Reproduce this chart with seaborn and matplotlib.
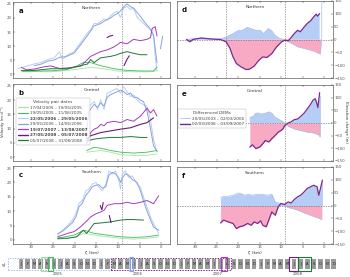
import numpy as np
import pandas as pd
import matplotlib
matplotlib.use("Agg")
import matplotlib.pyplot as plt
import seaborn as sns
from matplotlib.lines import Line2D
from matplotlib.patches import Rectangle

sns.set_style("ticks")
plt.rcParams['font.family'] = ['DejaVu Sans']

# ---------------- velocity pair labels / colours ----------------
pair_labels = ["17/04/2005 – 19/05/2005", "19/05/2005 – 11/06/2005",
               "22/05/2006 – 29/05/2006", "29/05/2006 – 14/06/2006",
               "19/07/2007 – 13/08/2007", "27/05/2008 – 05/07/2008",
               "05/07/2008 – 31/08/2008"]
pair_keys = ["lg", "g", "lb", "b", "p", "dp", "dg"]
pair_bold = [False, False, True, False, True, True, False]
dem_labels = ["20/05/2003 – 02/03/2006", "02/03/2006 – 03/09/2007"]
region_names = ["Northern", "Central", "Southern"]
ztick_vals = [30, 25, 20, 15, 10, 5, 0]
v_ticks = [0, 5, 10, 15, 20, 25]
h_ticks = [-150, -100, -50, 0, 50, 100, 150]
years = [2005, 2006, 2007, 2008]
month_letters = ["J", "F", "M", "A", "M", "J", "J", "A", "S", "O", "N", "D"]

# ---------------- panel a (Northern) velocities ----------------
a_lg_z = [32.3, 29.0, 25.5, 21.6, 18.6, 16.3, 14.0, 12.0, 10.2, 8.0, 6.4, 3.3, 1.8, 1.0]
a_lg_v = [0.8, 0.9, 0.8, 1.3, 1.9, 2.4, 2.0, 1.6, 1.1, 0.9, 0.8, 0.8, 0.9, 1.3]
a_g_z = [32.0, 28.0, 25.0, 22.0, 20.1, 18.0, 16.3, 14.0, 10.9, 7.9, 4.8, 1.8, 1.0]
a_g_v = [1.0, 1.1, 1.2, 1.6, 2.4, 4.1, 4.1, 3.0, 1.9, 1.3, 1.1, 1.1, 2.4]
a_lb_z = [33.1, 30.8, 29.3, 27.8, 26.2, 24.7, 23.5, 22.8, 21.6, 20.1, 18.6, 17.0, 16.3, 15.5, 14.7, 14.0,
          13.2, 12.5, 11.7, 10.9, 10.2, 9.4, 8.7, 7.9, 7.1, 6.4, 5.6, 4.8, 4.1, 3.3, 2.5, 1.8, 1.4, 1.0]
a_lb_v = [1.9, 3.0, 3.6, 4.1, 5.2, 5.8, 8.0, 5.2, 6.9, 8.0, 11.3, 14.7, 15.8, 18.0, 18.0, 18.6,
          19.7, 19.1, 20.8, 21.9, 22.4, 20.2, 23.6, 24.1, 23.0, 23.6, 20.2, 19.1, 18.0, 16.9, 15.8, 13.6, 5.8, 1.3]
a_b_z = [29.3, 27.8, 26.2, 24.7, 23.5, 22.0, 20.1, 18.6, 17.0, 15.5, 14.0, 12.5, 11.7, 10.9, 10.2,
         9.4, 8.7, 7.9, 7.1, 6.4, 5.6, 4.8, 4.1, 3.3, 2.5, 1.8, 1.0, np.nan, 0.2, -0.3]
a_b_v = [3.0, 3.5, 4.6, 5.0, 6.0, 6.2, 7.5, 10.5, 13.8, 17.2, 18.0, 19.5, 20.0, 21.0, 21.5,
         22.5, 24.0, 25.0, 24.0, 23.5, 22.0, 20.5, 19.0, 17.5, 16.0, 14.0, 4.0, np.nan, 9.0, 13.5]
a_p_z = [32.3, 31.0, 29.3, 27.0, 25.5, 23.5, 21.6, 18.6, 16.3, 15.5, 14.0, 12.5, 10.9, 9.4, 7.9,
         6.4, 4.8, 3.3, 2.5, 2.1, 1.4, 1.0]
a_p_v = [2.4, 1.5, 1.8, 2.6, 2.9, 2.0, 2.2, 2.8, 6.3, 6.9, 8.0, 8.6, 9.7, 11.3, 10.8,
         12.4, 11.9, 12.4, 13.0, 16.3, 16.9, 13.6]
a_dp_z = [12.5, 12.0, 11.2, np.nan, 8.6, 8.0, 7.4]
a_dp_v = [13.0, 13.5, 13.8, np.nan, 3.0, 5.0, 6.5]
a_dg_z = [32.3, 29.3, 25.5, 21.6, 18.6, 17.0, 16.3, 15.5, 14.0, 11.7, 10.2, 9.4, 7.9, 6.4, 4.8, 3.3]
a_dg_v = [1.3, 1.3, 1.9, 1.9, 3.0, 3.6, 5.2, 4.1, 5.8, 6.3, 6.9, 7.4, 8.0, 7.4, 6.9, 6.9]

# ---------------- panel b (Central) velocities ----------------
b_lg_z = [17.2, 14.0, 11.7, 9.4, 6.4, 3.3, 1.0]
b_lg_v = [1.7, 2.3, 1.7, 0.8, 0.6, 0.6, 1.1]
b_g_z = [17.2, 15.5, 14.0, 11.7, 9.4, 6.4, 3.3, 1.0]
b_g_v = [2.3, 3.4, 3.1, 2.3, 1.7, 1.4, 1.7, 2.3]
b_lb_z = [17.4, 16.7, 15.5, 14.7, 14.0, 13.2, 12.5, 11.7, 10.9, 10.2, 9.4, 8.7, 7.9, 7.1, 6.4,
          5.6, 4.8, 4.1, 3.3, 2.5, 1.8, 1.0]
b_lb_v = [5.7, 17.8, 19.5, 16.7, 20.1, 16.7, 22.4, 23.0, 23.6, 24.1, 22.4, 24.7, 23.0, 21.3, 21.8,
          20.1, 19.0, 18.4, 17.8, 13.2, 6.3, 1.7]
b_b_z = [17.4, 16.7, 15.5, 14.7, 14.0, 13.2, 12.5, 11.7, 10.9, 10.2, 9.4, 8.7, 7.9, 7.1, 6.4,
         5.6, 4.8, 4.1, 3.3, 2.5, 1.8, 1.0]
b_b_v = [6.5, 16.0, 18.5, 17.5, 19.0, 18.0, 21.0, 22.0, 22.5, 23.0, 23.5, 23.0, 22.0, 22.5, 21.0,
         21.0, 20.0, 19.5, 16.0, 10.0, 4.0, 2.0]
b_p_z = [17.2, 16.3, 15.5, 14.7, 14.0, 13.2, 12.5, 10.9, 9.4, 7.9, 6.4, 4.8, 3.3, 2.5, 1.8, 1.0]
b_p_v = [4.6, 8.6, 9.8, 10.3, 11.5, 11.0, 12.1, 12.6, 12.1, 13.2, 12.6, 14.4, 17.2, 15.5, 16.7, 14.4]
b_dp_z = [17.2, 16.3, 14.0, 11.7, 9.4, 7.1, 4.8, 3.3, 1.8]
b_dp_v = [6.3, 7.5, 8.6, 9.2, 9.8, 10.3, 11.5, 12.1, 13.8]
b_dg_z = [17.2, 15.5, 14.0, 11.7, 9.4, 7.1, 4.8, 3.3]
b_dg_v = [5.7, 6.3, 6.6, 6.9, 6.9, 7.2, 6.9, 6.9]

# ---------------- panel c (Southern) velocities ----------------
c_lg_z = [23.9, 20.1, 17.8, 15.5, 12.5, 9.4, 6.4, 3.3, 0.6]
c_lg_v = [0.2, 0.9, 2.3, 1.7, 1.1, 0.6, 0.3, 0.6, 1.1]
c_g_z = [23.9, 20.1, 17.8, 15.5, 12.5, 9.4, 6.4, 3.3, 0.6]
c_g_v = [0.6, 1.7, 3.4, 2.3, 1.7, 1.1, 0.9, 1.1, 1.7]
c_lb_z = [23.9, 22.8, 21.6, 20.5, 19.7, 19.0, 18.2, 17.4, 16.7, 15.9, 15.1, 14.4, 13.6, 12.8, 12.1,
          11.3, 10.6, 9.8, 9.4, 9.0, 8.3, 7.5, 6.7, 5.6, 4.8, 4.1, 3.3, 2.5, 1.8, 0.6]
c_lb_v = [1.7, 3.4, 5.1, 6.9, 9.1, 12.6, 13.7, 17.1, 17.7, 19.4, 20.0, 18.3, 17.1, 19.4, 24.0,
          22.9, 24.0, 20.6, 17.7, 22.9, 24.0, 21.7, 22.3, 19.4, 18.3, 14.9, 11.4, 8.0, 5.7, 2.3]
c_b_z = [23.9, 22.8, 21.6, 20.5, 19.7, 19.0, 18.2, 17.4, 16.7, 15.9, 15.1, 14.4, 13.6, 12.8, 12.1,
         11.3, 10.6, 9.8, 9.4, 9.0, 8.3, 7.5, 6.7, 5.6, 4.8, 4.1, 3.3, 2.5, 1.8, 0.6]
c_b_v = [2.2, 3.0, 4.5, 6.0, 8.0, 11.5, 12.8, 15.5, 16.8, 18.5, 19.0, 19.2, 18.0, 18.5, 22.5,
         23.5, 23.0, 21.5, 20.0, 21.5, 23.0, 22.5, 21.0, 20.0, 17.0, 13.5, 10.0, 7.0, 4.5, 3.4]
c_p_z = [23.9, 21.6, 20.1, 18.6, 17.0, 16.3, 15.1, 14.0, 13.2, 12.5, 10.9, 9.4, 7.9, 6.4, 4.8, 3.3, 1.8, 0.6]
c_p_v = [1.1, 2.3, 2.9, 4.6, 6.9, 8.0, 9.1, 9.7, 10.3, 12.0, 12.6, 12.6, 13.1, 12.6, 13.1, 13.7, 12.6, 15.4]
c_dp_z = [14.1, 13.7, 13.4, np.nan, 12.0, 11.6]
c_dp_v = [12.0, 10.5, 13.0, np.nan, 8.5, 6.0]
c_dg_z = [23.9, 21.6, 19.5, 18.0, 17.2, 15.5, 14.0, 11.7, 9.4, 7.9, 6.4, 4.1]
c_dg_v = [0.6, 0.6, 1.1, 3.4, 2.3, 5.7, 5.9, 6.3, 6.9, 7.1, 7.1, 6.9]

# ---------------- elevation change (differenced DEMs) ----------------
d_h1_z = [32.0, 30.5, 28.6, 26.4, 24.1, 22.7, 22.0, 21.2, 20.1, 19.0, 17.9, 17.1, 16.0, 14.9, 14.1,
          13.0, 12.2, 11.5, 10.4, 9.2, 8.4, 7.3, 6.2, 4.7, 3.2, 2.1, 1.3, 0.9, 0.62, 0.6]
d_h1_v = [0, 3, 5, 3, 2, 10, 17, 23, 34, 36, 47, 43, 36, 36, 23,
          43, 34, 17, 4, 0, -9, -18, -29, -35, -42, -48, -55, -57, 0, 147]
d_h2_z = [32.0, 31.2, 30.5, 28.6, 26.4, 24.1, 22.8, 21.9, 21.2, 20.4, 19.3, 18.2, 17.4, 16.3, 15.2,
          14.3, 13.3, 12.2, 11.1, 9.9, 9.2, 8.4, 7.7, 7.0, 6.2, 5.6, 4.7, 4.0, 3.2, 2.5, 1.9, 1.6, 1.1]
d_h2_v = [0, -9, 0, 6, 2, 0, -9, -35, -68, -94, -107, -117, -116, -104, -81,
          -68, -70, -55, -29, -9, -3, -5, 8, 23, 36, 30, 49, 62, 73, 88, 99, 91, 101]
e_h1_z = [17.3, 16.5, 15.9, 15.2, 14.6, 13.8, 12.9, 12.2, 11.4, 10.7, 9.9, 9.2, 8.4, 7.0, 5.5,
          4.0, 2.5, 1.3, 1.0, 0.95, 0.9]
e_h1_v = [22, 26, 39, 39, 35, 38, 44, 39, 22, 16, 8, 0, -13, -23, -30,
          -36, -39, -47, -56, 0, 107]
e_h2_z = [17.3, 16.7, 15.9, 15.0, 14.3, 13.7, 12.9, 12.2, 11.4, 10.7, 10.1, 9.6, 9.2, 8.4, 7.7,
          7.0, 6.2, 5.5, 4.7, 4.0, 3.2, 2.6, 2.1, 1.7, 1.5, 1.1]
e_h2_v = [-95, -86, -101, -95, -82, -69, -75, -62, -49, -36, -30, -23, -10, 0, 5,
          13, 16, 26, 39, 55, 74, 91, 96, 74, 61, 120]
f_h1_z = [24.1, 23.4, 22.3, 21.2, 20.0, 19.3, 18.5, 17.8, 16.7, 15.5, 14.4, 13.3, 12.2, 11.4, 10.3,
          9.2, 8.4, 7.3, 6.2, 4.7, 3.2, 1.7, 0.6]
f_h1_v = [31, 36, 36, 40, 49, 46, 40, 44, 40, 44, 44, 40, 44, 14, 8,
          0, -8, -12, -18, -29, -38, -47, -55]
f_h2_z = [24.1, 23.4, 22.3, 21.2, 20.4, 19.7, 18.9, 17.8, 17.0, 16.3, 15.5, 14.8, 14.3, 13.5, 12.9,
          12.2, 11.4, 10.7, 10.1, 9.2, 8.4, 7.7, 7.0, 6.2, 5.5, 4.7, 4.0, 3.2, 2.5, 1.7, 1.3, 1.0, 0.45]
f_h2_v = [-68, -57, -64, -70, -90, -83, -80, -70, -77, -64, -70, -60, -77, -83, -57,
          -25, -38, -5, 8, 4, 14, 10, 23, 34, 40, 53, 66, 73, 79, 73, 40, 60, 99]

# timeline: velocity pair date ranges (decimal years)
pair_start = [2005.29, 2005.38, 2006.39, 2006.41, 2007.55, 2008.40, 2008.51]
pair_end = [2005.38, 2005.44, 2006.41, 2006.45, 2007.62, 2008.51, 2008.67]
dem_start = [2003.38, 2006.17]
dem_end = [2006.17, 2007.67]

# ---------------- styles ----------------
colors = {"lg": "#a3e3a0", "g": "#3cba5c", "lb": "#b9cdf2", "b": "#87a3de",
          "p": "#a73bbd", "dp": "#6b1b79", "dg": "#1f7636"}
widths = {"lg": 0.6, "g": 0.6, "lb": 0.7, "b": 0.7, "p": 0.7, "dp": 0.8, "dg": 0.7}
draw_order = ["lb", "b", "lg", "g", "p", "dg", "dp"]
dem_line_col = ["#a9bfea", "#7b2a8c"]
pos_fill = "#b6cdf6"
neg_fill = "#f8a9c4"
tick_col = "#555555"

W, H = 350, 277
fig = plt.figure(figsize=(W / 100, H / 100), dpi=100)

def fbox(x0, y0, x1, y1):
    return [x0 / W, 1 - y1 / H, (x1 - x0) / W, (y1 - y0) / H]

ax_a = fig.add_axes(fbox(13, 2, 170, 78))
ax_b = fig.add_axes(fbox(13, 84, 170, 161))
ax_c = fig.add_axes(fbox(13, 166, 170, 244))
ax_d = fig.add_axes(fbox(177, 1, 333, 78))
ax_e = fig.add_axes(fbox(177, 85, 333, 161))
ax_f = fig.add_axes(fbox(177, 167, 333, 244))
ax_t = fig.add_axes(fbox(15, 258, 338, 270))

vel_data = {
    ax_a: {"lg": (a_lg_z, a_lg_v), "g": (a_g_z, a_g_v), "lb": (a_lb_z, a_lb_v), "b": (a_b_z, a_b_v),
           "p": (a_p_z, a_p_v), "dp": (a_dp_z, a_dp_v), "dg": (a_dg_z, a_dg_v)},
    ax_b: {"lg": (b_lg_z, b_lg_v), "g": (b_g_z, b_g_v), "lb": (b_lb_z, b_lb_v), "b": (b_b_z, b_b_v),
           "p": (b_p_z, b_p_v), "dp": (b_dp_z, b_dp_v), "dg": (b_dg_z, b_dg_v)},
    ax_c: {"lg": (c_lg_z, c_lg_v), "g": (c_g_z, c_g_v), "lb": (c_lb_z, c_lb_v), "b": (c_b_z, c_b_v),
           "p": (c_p_z, c_p_v), "dp": (c_dp_z, c_dp_v), "dg": (c_dg_z, c_dg_v)},
}
dem_data = {
    ax_d: [(d_h1_z, d_h1_v), (d_h2_z, d_h2_v)],
    ax_e: [(e_h1_z, e_h1_v), (e_h2_z, e_h2_v)],
    ax_f: [(f_h1_z, f_h1_v), (f_h2_z, f_h2_v)],
}

def to_df(z, v):
    df = pd.DataFrame({"zeta": z, "val": v})
    df["seg"] = df["val"].isna().cumsum()
    return df.dropna()

def style_axes(ax, right=False, xlabels=False):
    ax.set_xlim(34.2, -2.0)
    ax.set_xticks(ztick_vals)
    for s in ax.spines.values():
        s.set_linewidth(0.4)
        s.set_color("#333333")
    ax.tick_params(axis="both", direction="in", length=1.5, width=0.3, labelsize=2.8,
                   colors="#333333", labelcolor=tick_col, pad=0.9, top=True, bottom=True)
    if right:
        ax.yaxis.tick_right()
        ax.tick_params(axis="y", left=False, right=True, labelleft=False, labelright=True)
    if not xlabels:
        ax.tick_params(axis="x", labelbottom=False)
    ax.set_xlabel("")
    ax.set_ylabel("")

# velocity panels
for ax, name, letter, vlines in [(ax_a, region_names[0], "a", [22.9, 9.0]),
                                 (ax_b, region_names[1], "b", [9.0]),
                                 (ax_c, region_names[2], "c", [9.0])]:
    for key in draw_order:
        z, v = vel_data[ax][key]
        df = to_df(z, v)
        sns.lineplot(data=df, x="zeta", y="val", units="seg", estimator=None, sort=False,
                     color=colors[key], linewidth=widths[key], ax=ax, legend=False)
    for xv in vlines:
        ax.axvline(xv, color="#888888", lw=0.5, ls=(0, (2, 1.5)), zorder=0)
    ax.set_ylim(-1.4, 25.7)
    ax.set_yticks(v_ticks)
    style_axes(ax, right=False, xlabels=(ax is ax_c))
    ax.text(0.5, 0.92, name, transform=ax.transAxes, ha="center", va="center", fontsize=3.2, color="#333333")
    ax.text(0.035, 0.88, letter, transform=ax.transAxes, ha="left", va="center", fontsize=5,
            fontweight="bold", color="#111111")

# elevation panels
for ax, name, letter, vlines in [(ax_d, region_names[0], "d", [22.9, 9.2]),
                                 (ax_e, region_names[1], "e", [9.2]),
                                 (ax_f, region_names[2], "f", [9.2])]:
    for (z, v) in dem_data[ax]:
        za = np.asarray(z)
        va = np.asarray(v, dtype=float)
        ax.fill_between(za, 0, va, where=va >= 0, interpolate=True, color=pos_fill, lw=0, zorder=1)
        ax.fill_between(za, 0, va, where=va <= 0, interpolate=True, color=neg_fill, lw=0, zorder=1)
    for i, (z, v) in enumerate(dem_data[ax]):
        df = to_df(z, v)
        sns.lineplot(data=df, x="zeta", y="val", units="seg", estimator=None, sort=False,
                     color=dem_line_col[i], linewidth=0.5 if i == 0 else 0.9, ax=ax, legend=False, zorder=3)
    ax.axhline(0, color="#777777", lw=0.5, ls=(0, (2, 1.5)), zorder=2)
    for xv in vlines:
        ax.axvline(xv, color="#888888", lw=0.5, ls=(0, (2, 1.5)), zorder=2)
    ax.set_ylim(-150, 150)
    ax.set_yticks(h_ticks)
    style_axes(ax, right=True, xlabels=(ax is ax_f))
    ax.text(0.5, 0.92, name, transform=ax.transAxes, ha="center", va="center", fontsize=3.2, color="#333333")
    ax.text(0.03, 0.88, letter, transform=ax.transAxes, ha="left", va="center", fontsize=5,
            fontweight="bold", color="#111111")

ax_c.set_xlabel("ζ (km)", fontsize=3.2, labelpad=1.5, color="#333333")
ax_f.set_xlabel("ζ (km)", fontsize=3.2, labelpad=1.5, color="#333333")
fig.text(3.4 / W, 1 - 122 / H, "Velocity (m d⁻¹)", rotation=90, ha="center", va="center",
         fontsize=2.8, color="#333333")
fig.text(346.5 / W, 1 - 122 / H, "Elevation change (m)", rotation=270, ha="center", va="center",
         fontsize=2.8, color="#333333")

# legends
vh = [Line2D([], [], color=colors[k], lw=widths[k] + 0.2) for k in pair_keys]
leg = ax_b.legend(vh, pair_labels, title="Velocity pair dates", loc="upper left",
                  bbox_to_anchor=(0.005, 0.84), fontsize=3, title_fontsize=3.1, frameon=True,
                  handlelength=2.4, handletextpad=0.6, labelspacing=0.35, borderpad=0.5)
leg.get_frame().set_linewidth(0.3)
leg.get_frame().set_edgecolor("#999999")
for t, bold in zip(leg.get_texts(), pair_bold):
    t.set_color("#444444")
    if bold:
        t.set_fontweight("bold")
leg.get_title().set_color("#444444")

dh = [Line2D([], [], color=dem_line_col[0], lw=0.6), Line2D([], [], color=dem_line_col[1], lw=1.0)]
leg2 = ax_e.legend(dh, dem_labels, title="Differenced DEMs", loc="upper left",
                   bbox_to_anchor=(-0.01, 0.71), fontsize=3, title_fontsize=3.1, frameon=True,
                   handlelength=2.4, handletextpad=0.6, labelspacing=0.35, borderpad=0.5)
leg2.get_frame().set_linewidth(0.3)
leg2.get_frame().set_edgecolor("#999999")
for t in leg2.get_texts():
    t.set_color("#444444")
leg2.get_title().set_color("#444444")

# ---------------- timeline ----------------
ax_t.set_xlim(years[0] - 0.03, years[-1] + 1.01)
ax_t.set_ylim(0, 1)
ax_t.axis("off")
for yi, yr in enumerate(years):
    for mi, ml in enumerate(month_letters):
        x0 = yr + mi / 12 + 0.012
        ax_t.add_patch(Rectangle((x0, 0.12), 1 / 12 - 0.024, 0.76, facecolor="#9a9a9a",
                                 edgecolor="none", zorder=1))
        ax_t.text(x0 + (1 / 12 - 0.024) / 2, 0.5, ml, ha="center", va="center", fontsize=2.6,
                  color="#222222", zorder=2)
    ax_t.add_patch(Rectangle((yr - 0.006, 0.0), 0.012, 1.0, facecolor="#222222", zorder=3))
    ax_t.text(yr + 0.5, -0.35, str(yr), ha="center", va="center", fontsize=2.8, color="#444444",
              clip_on=False)
ax_t.add_patch(Rectangle((years[-1] + 1 - 0.006, 0.0), 0.012, 1.0, facecolor="#222222", zorder=3))
for i, (s, e) in enumerate(zip(dem_start, dem_end)):
    s2 = max(s, years[0] - 0.12)
    ax_t.add_patch(Rectangle((s2, 0.02), e - s2, 0.96, facecolor="none", edgecolor=dem_line_col[i],
                             lw=0.7, ls=(0, (1.5, 1.2)), zorder=4, clip_on=False))
for k, s, e in zip(pair_keys, pair_start, pair_end):
    ax_t.add_patch(Rectangle((s, -0.05), e - s, 1.1, facecolor="none", edgecolor=colors[k],
                             lw=0.8, zorder=5, clip_on=False))
fig.text(4 / W, 1 - 265 / H, "g)", ha="center", va="center", fontsize=3.2, color="#333333")

fig.savefig("out.png", dpi=100)
